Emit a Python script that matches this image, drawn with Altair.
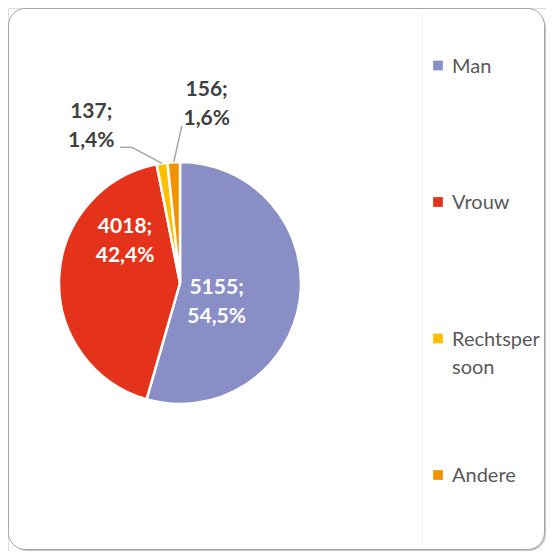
import altair as alt
import pandas as pd

categories = ["Man", "Vrouw", "Rechtspersoon", "Andere"]
counts = [5155, 4018, 137, 156]
percent_labels = ["54,5%", "42,4%", "1,4%", "1,6%"]
legend_labels = ["Man", "Vrouw", "Rechtsper\nsoon", "Andere"]
colors = ["#8A8EC6", "#E5321A", "#FFC000", "#F39200"]

df = pd.DataFrame({
    "cat": categories,
    "value": counts,
    "pct": percent_labels,
    "legend": legend_labels,
    "order": list(range(len(categories))),
})
df["label"] = df["value"].astype(str) + ";\n" + df["pct"]

CX, CY, R = 172, 275, 121
W, H = 538, 543
FONT = "Lato"

color = alt.Color("cat:N", scale=alt.Scale(domain=categories, range=colors), legend=None)
theta = alt.Theta("value:Q", stack=True)
order = alt.Order("order:Q")
base = alt.Chart(df)
one = alt.Chart(pd.DataFrame({"a": [0]}))

shadow = one.mark_rect(cornerRadius=17, fill="#C8C8C8").encode(
    x=alt.value(2.5), x2=alt.value(538), y=alt.value(2.5), y2=alt.value(543))
frame = one.mark_rect(cornerRadius=17, fill="white", stroke="#A6A6A6", strokeWidth=1).encode(
    x=alt.value(0.5), x2=alt.value(536.5), y=alt.value(0.5), y2=alt.value(541.5))
divider = one.mark_rule(color="#F3F3F3", strokeWidth=1).encode(
    x=alt.value(414), y=alt.value(6), y2=alt.value(537))

pie = base.mark_arc(radius=R, stroke="white", strokeWidth=2.5).encode(
    theta=theta, color=color, order=order, x=alt.value(CX), y=alt.value(CY))


def label_layer(cat, radius, dx, dy, fill):
    return base.transform_calculate(
        t=f"datum.cat == '{cat}' ? datum.label : ''"
    ).mark_text(
        radius=radius, dx=dx, dy=dy, font=FONT, fontSize=21, fontWeight="bold",
        fill=fill, lineBreak="\n", lineHeight=29.5, align="center", baseline="middle"
    ).encode(theta=theta, order=order, text="t:N", x=alt.value(CX), y=alt.value(CY))


labels = [
    label_layer("Man", 40, -3, -1, "white"),
    label_layer("Vrouw", 55, 0, -54, "white"),
    label_layer("Rechtspersoon", 160, -65, -13, "#404040"),
    label_layer("Andere", 180, 36, -13.5, "#404040"),
]

lead = base.transform_joinaggregate(total="sum(value)").transform_window(
    cum="sum(value)", sort=[alt.SortField("order")], frame=[None, 0]
).transform_calculate(
    mid="(datum.cum - datum.value / 2) / datum.total * 2 * PI"
).transform_calculate(
    x1=f"{CX} + {R} * sin(datum.mid)",
    y1=f"{CY} - {R} * cos(datum.mid)",
).transform_calculate(
    xa="datum.cat == 'Andere' ? datum.x1 + 8 : datum.x1 - 30",
    ya="datum.cat == 'Andere' ? datum.y1 - 36 : datum.y1 - 16",
).transform_calculate(
    xb="datum.cat == 'Andere' ? datum.xa : datum.xa - 12",
).transform_filter("datum.value / datum.total < 0.05")

lead1 = lead.mark_rule(color="#A6A6A6", strokeWidth=1.5).encode(
    x=alt.X("x1:Q", scale=None, axis=None), x2="xa:Q",
    y=alt.Y("y1:Q", scale=None, axis=None), y2="ya:Q")
lead2 = lead.mark_rule(color="#A6A6A6", strokeWidth=1.5).encode(
    x=alt.X("xa:Q", scale=None, axis=None), x2="xb:Q",
    y=alt.Y("ya:Q", scale=None, axis=None), y2="ya:Q")

ly = alt.Y("cat:N", scale=alt.Scale(domain=categories, range=[57.5, 467], padding=0), axis=None)
leg_sq = base.mark_square(size=95, opacity=1).encode(
    x=alt.value(430), y=ly, color=color)
leg_tx = base.mark_text(
    font=FONT, fontSize=20, fill="#595959", align="left", baseline="alphabetic",
    dy=7, lineBreak="\n", lineHeight=28
).encode(x=alt.value(444), y=ly, text="legend:N")

chart = alt.layer(
    shadow, frame, divider, pie, *labels, lead1, lead2, leg_sq, leg_tx
).resolve_scale(
    x="independent", y="independent"
).properties(
    width=W, height=H, autosize=alt.AutoSizeParams(type="none"), padding=0
).configure_view(stroke=None).configure(background="white")

chart.save("out.html", embed_options={"renderer": "svg", "actions": False})
